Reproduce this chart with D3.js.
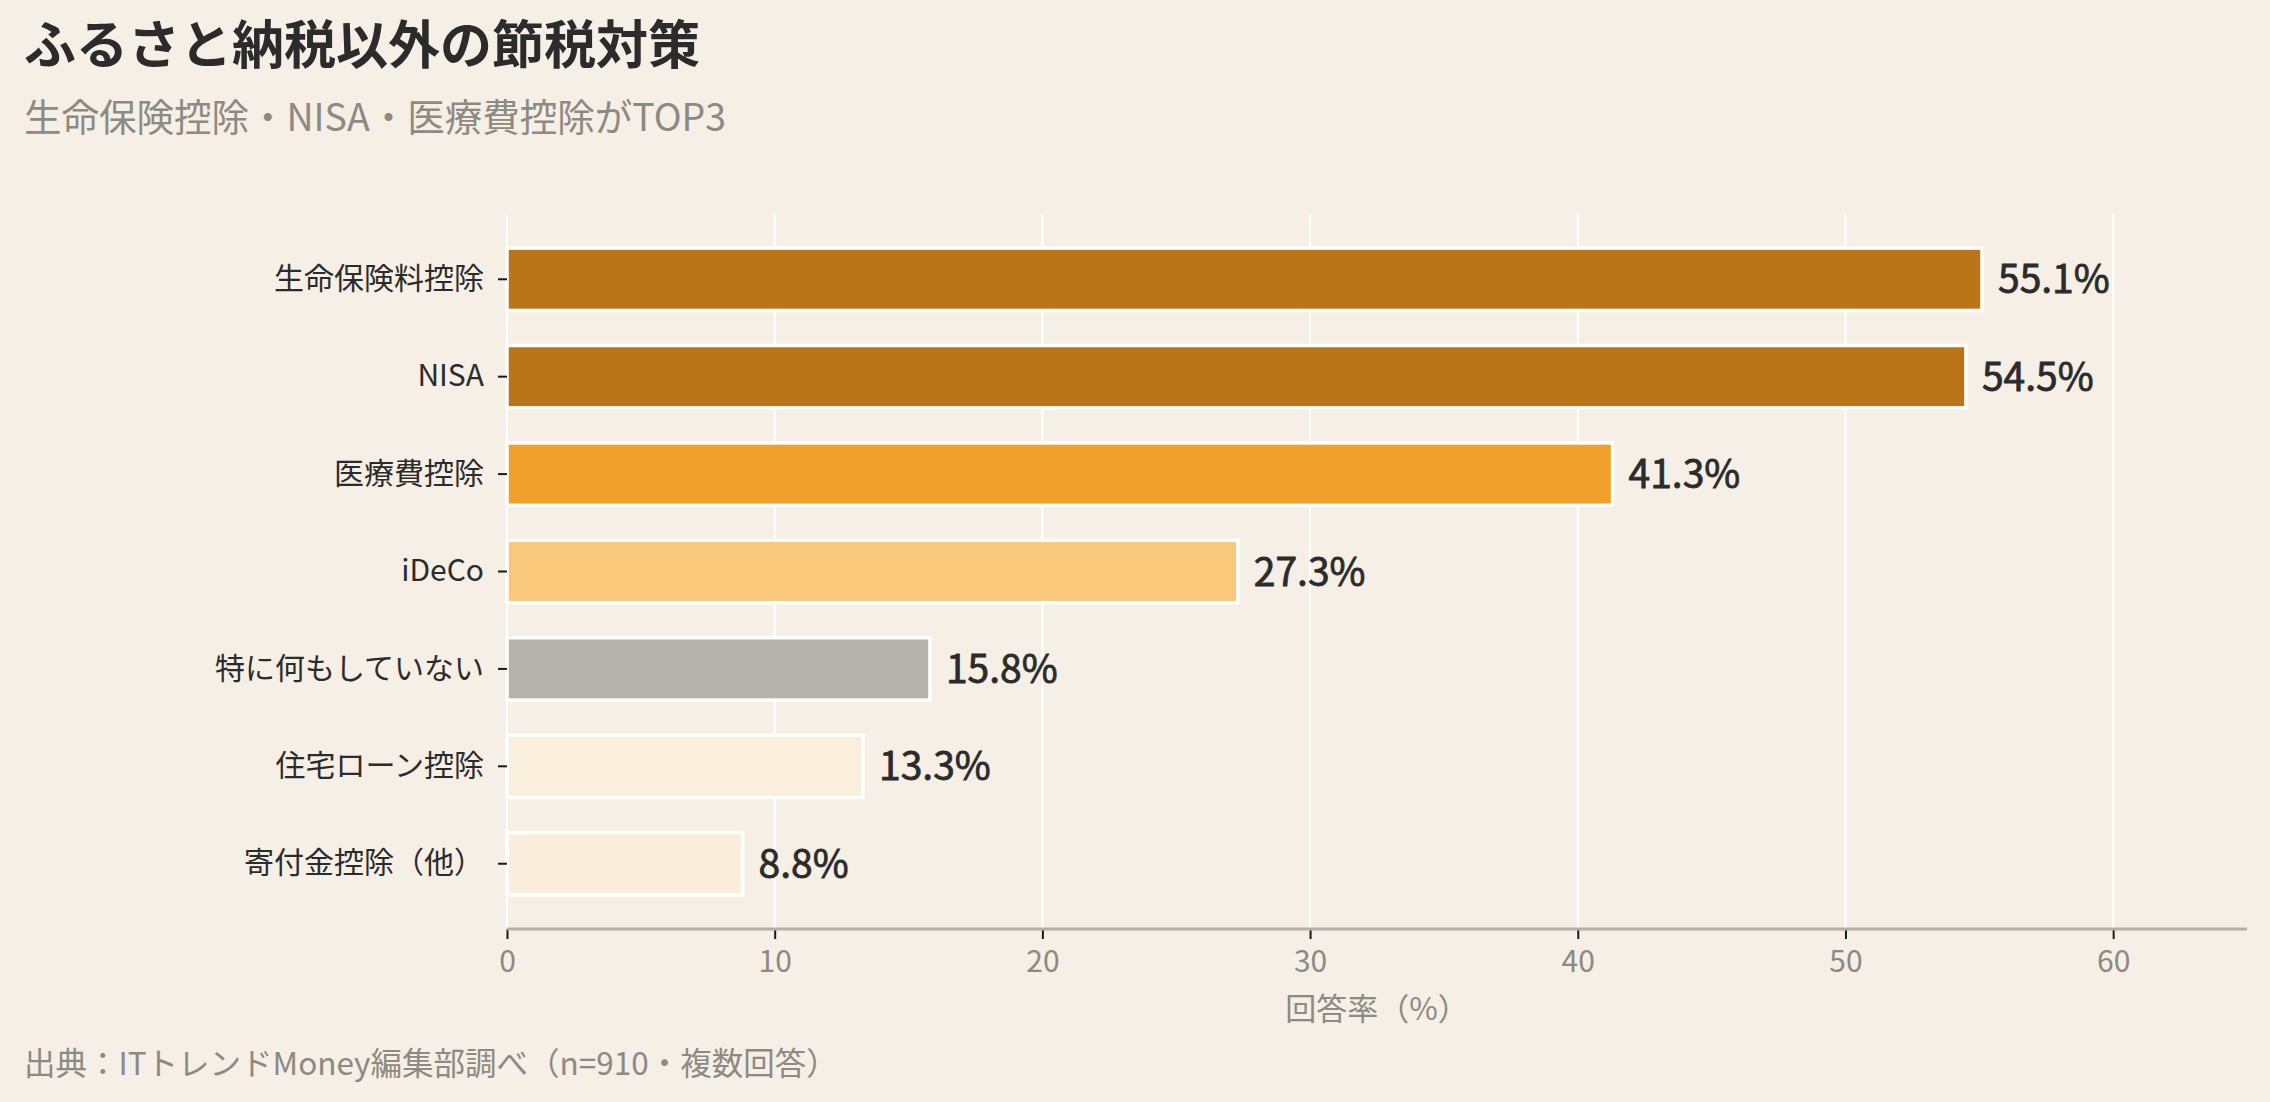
<!DOCTYPE html>
<html lang="ja">
<head>
<meta charset="utf-8">
<title>ふるさと納税以外の節税対策</title>
<script src="https://cdn.jsdelivr.net/npm/d3@7"></script>
<style>
  html, body { margin: 0; padding: 0; background: #f5efe6; }
  svg { display: block; font-family: "Noto Sans CJK JP", "Noto Sans", sans-serif; }
</style>
</head>
<body>
<div id="chart"></div>
<script>
const W = 2270;
const H = 1102;

// ── Data ──────────────────────────────────────────────────────────────────
const categories = [
  "生命保険料控除", "NISA", "医療費控除", "iDeCo",
  "特に何もしていない", "住宅ローン控除", "寄付金控除（他）",
];
const values = [55.1, 54.5, 41.3, 27.3, 15.8, 13.3, 8.8];
const barColors = ["#b97518", "#b97518", "#f0a02b", "#f9c87a", "#b6b3ac", "#faeedd", "#faeddb"];
const xTicks = [0, 10, 20, 30, 40, 50, 60];

const title = "ふるさと納税以外の節税対策";
const subtitle = "生命保険控除・NISA・医療費控除がTOP3";
const xLabel = "回答率（%）";
const source = "出典：ITトレンドMoney編集部調べ（n=910・複数回答）";

const margin = {top: 214, right: 23, bottom: 173, left: 507};
const plotW = W - margin.left - margin.right;
const plotH = H - margin.top - margin.bottom;

const x = d3.scaleLinear().domain([0, 65]).range([0, plotW]);
const y = d3.scaleBand()
  .domain(categories)
  .range([0, plotH])
  .paddingInner(0.36)
  .paddingOuter(0.35);

const svg = d3.select("#chart").append("svg")
  .attr("width", W)
  .attr("height", H)
  .attr("viewBox", `0 0 ${W} ${H}`);

svg.append("rect").attr("width", W).attr("height", H).attr("fill", "#f5efe6");

// ── Titles ────────────────────────────────────────────────────────────────
svg.append("text")
  .attr("x", 24).attr("y", 64)
  .attr("font-size", 52).attr("font-weight", 700)
  .attr("fill", "#2b2b2b")
  .text(title);

svg.append("text")
  .attr("x", 24).attr("y", 131)
  .attr("font-size", 37.5)
  .attr("fill", "#8c8a82")
  .text(subtitle);

const g = svg.append("g").attr("transform", `translate(${margin.left},${margin.top})`);

// gridlines
g.append("g")
  .selectAll("line")
  .data(xTicks)
  .join("line")
  .attr("x1", (d) => x(d)).attr("x2", (d) => x(d))
  .attr("y1", 0).attr("y2", plotH)
  .attr("stroke", "#ffffff")
  .attr("stroke-width", 2);

// bars
g.append("g")
  .selectAll("rect")
  .data(categories)
  .join("rect")
  .attr("x", 0)
  .attr("y", (d) => y(d))
  .attr("width", (d, i) => x(values[i]))
  .attr("height", y.bandwidth())
  .attr("fill", (d, i) => barColors[i])
  .attr("stroke", "#ffffff")
  .attr("stroke-width", 3.5);

// value labels (medium weight: regular face + thin stroke)
g.append("g")
  .selectAll("text")
  .data(categories)
  .join("text")
  .attr("x", (d, i) => x(values[i]) + 16)
  .attr("y", (d) => y(d) + y.bandwidth() / 2)
  .attr("dy", "0.36em")
  .attr("font-size", 39)
  .attr("fill", "#2b2b2b")
  .attr("stroke", "#2b2b2b")
  .attr("stroke-width", 0.8)
  .text((d, i) => `${values[i].toFixed(1)}%`);

// ── Axes ──────────────────────────────────────────────────────────────────
const xAxis = g.append("g")
  .attr("transform", `translate(0,${plotH})`)
  .call(d3.axisBottom(x).tickValues(xTicks).tickSize(10).tickPadding(12))
  .attr("font-family", null)
  .attr("font-size", 30);
xAxis.select(".domain").remove();
xAxis.selectAll(".tick line").attr("stroke", "#1a1a1a").attr("stroke-width", 2);
xAxis.selectAll(".tick text").attr("fill", "#8c8a82");
xAxis.append("line")
  .attr("x1", 0).attr("x2", plotW)
  .attr("stroke", "#b5b1a8")
  .attr("stroke-width", 3);

const yAxis = g.append("g")
  .call(d3.axisLeft(y).tickSize(9).tickPadding(14))
  .attr("font-family", null)
  .attr("font-size", 30);
yAxis.select(".domain").remove();
yAxis.selectAll(".tick line").attr("stroke", "#1a1a1a").attr("stroke-width", 2);
yAxis.selectAll(".tick text").attr("fill", "#2b2b2b");

svg.append("text")
  .attr("x", margin.left + plotW / 2).attr("y", 1020)
  .attr("text-anchor", "middle")
  .attr("font-size", 31)
  .attr("fill", "#8c8a82")
  .text(xLabel);

svg.append("text")
  .attr("x", 24).attr("y", 1075)
  .attr("font-size", 31.5)
  .attr("fill", "#8c8a82")
  .text(source);
</script>
</body>
</html>
